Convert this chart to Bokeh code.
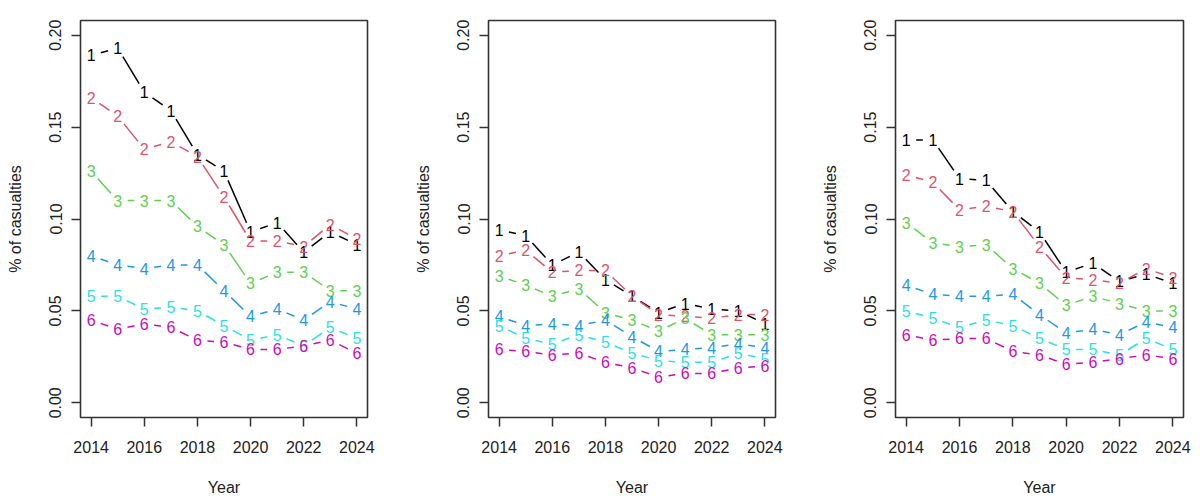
import numpy as np
from bokeh.plotting import figure
from bokeh.layouts import row
from bokeh.models import FixedTicker, Range1d
from bokeh.core.properties import value
from bokeh.embed import file_html
from bokeh.resources import INLINE

# ---------------- data ----------------
years = [2014, 2015, 2016, 2017, 2018, 2019, 2020, 2021, 2022, 2023, 2024]
x_ticks = [2014, 2016, 2018, 2020, 2022, 2024]
y_ticks = [0.0, 0.05, 0.10, 0.15, 0.20]
y_tick_labels = ["0.00", "0.05", "0.10", "0.15", "0.20"]
series_labels = ["1", "2", "3", "4", "5", "6"]
series_colors = ["#000000", "#DF536B", "#61D04F", "#2297E6", "#28E2E5", "#CD0BBC"]
x_label = "Year"
y_label = "% of casualties"

panel1_s1 = [0.189, 0.193, 0.169, 0.159, 0.135, 0.126, 0.093, 0.098, 0.082, 0.093, 0.086]
panel1_s2 = [0.166, 0.156, 0.138, 0.142, 0.134, 0.112, 0.088, 0.088, 0.085, 0.097, 0.089]
panel1_s3 = [0.126, 0.110, 0.110, 0.110, 0.096, 0.086, 0.065, 0.071, 0.071, 0.061, 0.061]
panel1_s4 = [0.080, 0.075, 0.073, 0.075, 0.075, 0.061, 0.047, 0.051, 0.045, 0.055, 0.051]
panel1_s5 = [0.058, 0.058, 0.051, 0.052, 0.050, 0.042, 0.034, 0.037, 0.031, 0.041, 0.035]
panel1_s6 = [0.045, 0.040, 0.043, 0.041, 0.034, 0.033, 0.029, 0.029, 0.031, 0.034, 0.027]

panel2_s1 = [0.094, 0.091, 0.075, 0.082, 0.067, 0.058, 0.049, 0.054, 0.051, 0.050, 0.043]
panel2_s2 = [0.080, 0.083, 0.071, 0.072, 0.072, 0.058, 0.048, 0.047, 0.046, 0.048, 0.048]
panel2_s3 = [0.069, 0.064, 0.058, 0.062, 0.049, 0.045, 0.039, 0.046, 0.037, 0.037, 0.037]
panel2_s4 = [0.047, 0.042, 0.043, 0.042, 0.045, 0.036, 0.028, 0.029, 0.030, 0.032, 0.030]
panel2_s5 = [0.042, 0.035, 0.032, 0.037, 0.033, 0.027, 0.023, 0.022, 0.022, 0.027, 0.024]
panel2_s6 = [0.029, 0.028, 0.026, 0.027, 0.022, 0.019, 0.014, 0.016, 0.016, 0.019, 0.020]

panel3_s1 = [0.143, 0.143, 0.122, 0.121, 0.104, 0.093, 0.071, 0.076, 0.066, 0.070, 0.065]
panel3_s2 = [0.124, 0.120, 0.105, 0.107, 0.104, 0.085, 0.068, 0.067, 0.065, 0.073, 0.068]
panel3_s3 = [0.098, 0.087, 0.085, 0.086, 0.073, 0.065, 0.053, 0.058, 0.054, 0.050, 0.050]
panel3_s4 = [0.064, 0.059, 0.058, 0.058, 0.059, 0.048, 0.038, 0.040, 0.037, 0.044, 0.041]
panel3_s5 = [0.050, 0.046, 0.041, 0.045, 0.042, 0.035, 0.029, 0.029, 0.026, 0.035, 0.029]
panel3_s6 = [0.037, 0.034, 0.035, 0.035, 0.028, 0.026, 0.021, 0.022, 0.024, 0.026, 0.024]

panels = [
    [panel1_s1, panel1_s2, panel1_s3, panel1_s4, panel1_s5, panel1_s6],
    [panel2_s1, panel2_s2, panel2_s3, panel2_s4, panel2_s5, panel2_s6],
    [panel3_s1, panel3_s2, panel3_s3, panel3_s4, panel3_s5, panel3_s6],
]

# ---------------- layout / style ----------------
FONT = "Liberation Sans"
FRAME_W = [287, 287, 288]
FRAME_H = 397
BORDER_L = [80, 88, 95]
BORDER_R = [33, 25, 9]
XR = (2013.6, 2024.4)
YR = (-0.008, 0.208)
GAP_PX = 10.0  # gap around each number (type="b")
AXIS_COL = "#333333"


def make_panel(i, series):
    fw = FRAME_W[i]
    p = figure(
        frame_width=fw, frame_height=FRAME_H,
        min_border_left=BORDER_L[i], min_border_right=BORDER_R[i],
        min_border_top=20, min_border_bottom=80,
        x_range=Range1d(*XR), y_range=Range1d(*YR),
        output_backend="svg", toolbar_location=None,
        background_fill_color="white", border_fill_color="white",
    )
    p.grid.visible = False
    p.outline_line_color = AXIS_COL
    p.outline_line_width = 1.6
    p.outline_line_alpha = 1.0

    kx = fw / (XR[1] - XR[0])
    ky = FRAME_H / (YR[1] - YR[0])
    xs = np.array(years, dtype=float)

    for vals, lab, col in zip(series, series_labels, series_colors):
        ys = np.array(vals, dtype=float)
        x0 = []; y0 = []; x1 = []; y1 = []
        for j in range(len(xs) - 1):
            dx = (xs[j + 1] - xs[j]) * kx
            dy = (ys[j + 1] - ys[j]) * ky
            d = float(np.hypot(dx, dy))
            f = GAP_PX / d
            if f < 0.5:
                x0.append(xs[j] + f * (xs[j + 1] - xs[j]))
                y0.append(ys[j] + f * (ys[j + 1] - ys[j]))
                x1.append(xs[j + 1] - f * (xs[j + 1] - xs[j]))
                y1.append(ys[j + 1] - f * (ys[j + 1] - ys[j]))
        p.segment(x0=x0, y0=y0, x1=x1, y1=y1, line_color=col, line_width=1.5)
        p.text(x=list(xs), y=list(ys), text=[lab] * len(xs), text_color=col,
               text_font=value(FONT), text_font_size="16px",
               text_align="center", text_baseline="middle")

    # x axis
    xa = p.xaxis[0]
    xa.ticker = FixedTicker(ticks=x_ticks)
    xa.axis_label = x_label
    # y axis
    ya = p.yaxis[0]
    ya.ticker = FixedTicker(ticks=y_ticks)
    ya.major_label_overrides = {t: l for t, l in zip(y_ticks, y_tick_labels)}
    ya.major_label_orientation = "vertical"
    ya.axis_label = y_label

    for ax in (xa, ya):
        ax.axis_line_color = None
        ax.major_tick_line_color = AXIS_COL
        ax.major_tick_line_width = 1.5
        ax.major_tick_out = 9
        ax.major_tick_in = 0
        ax.minor_tick_line_color = None
        ax.major_label_text_font = FONT
        ax.major_label_text_font_size = "16px"
        ax.major_label_text_color = "#222222"
        ax.axis_label_text_font = FONT
        ax.axis_label_text_font_size = "16px"
        ax.axis_label_text_font_style = "normal"
        ax.axis_label_text_color = "#222222"
    xa.major_label_standoff = 14
    xa.axis_label_standoff = 23
    ya.major_label_standoff = 10
    ya.axis_label_standoff = 23
    return p


figs = [make_panel(i, s) for i, s in enumerate(panels)]
layout = row(*figs, spacing=0)

open("out.html", "w").write(file_html(layout, INLINE))
